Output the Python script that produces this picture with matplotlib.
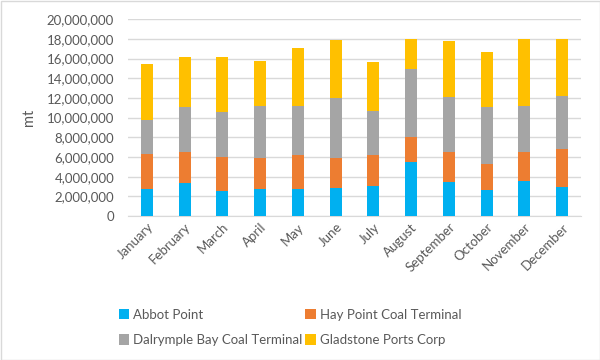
import matplotlib.pyplot as plt
from matplotlib.patches import Rectangle
from matplotlib.ticker import FuncFormatter
import numpy as np

plt.rcParams['font.family'] = ['Lato', 'DejaVu Sans']

months = ['January', 'February', 'March', 'April', 'May', 'June', 'July',
          'August', 'September', 'October', 'November', 'December']
abbot_point = [2750000, 3320000, 2580000, 2780000, 2750000, 2880000, 3100000,
               5460000, 3490000, 2640000, 3530000, 2950000]
hay_point = [3550000, 3220000, 3420000, 3120000, 3420000, 3020000, 3070000,
             2540000, 2980000, 2680000, 2940000, 3830000]
dalrymple_bay = [3500000, 4540000, 4580000, 5320000, 4980000, 6130000, 4510000,
                 6950000, 5600000, 5760000, 4750000, 5460000]
gladstone = [5700000, 5090000, 5590000, 4510000, 5930000, 5870000, 4980000,
             3050000, 5690000, 5630000, 6780000, 5760000]

series = [('Abbot Point', abbot_point, '#00b0f0'),
          ('Hay Point Coal Terminal', hay_point, '#ed7d31'),
          ('Dalrymple Bay Coal Terminal', dalrymple_bay, '#a5a5a5'),
          ('Gladstone Ports Corp', gladstone, '#ffc000')]

fig = plt.figure(figsize=(6, 3.6), dpi=100)
ax = fig.add_axes([128/600, 1 - 216/360, (581-128)/600, (216-19.3)/360])

x = np.arange(len(months))
bottom = np.zeros(len(months))
bars = []
for name, vals, col in series:
    b = ax.bar(x, vals, 0.32, bottom=bottom, color=col, label=name, zorder=3)
    bars.append(b)
    bottom += np.array(vals)

ax.set_xlim(-0.5, len(months) - 0.5)
ax.set_ylim(0, 20000000)
ax.set_yticks(np.arange(0, 20000001, 2000000))
ax.yaxis.set_major_formatter(FuncFormatter(lambda v, p: '{:,.0f}'.format(v)))
ax.grid(axis='y', color='#d9d9d9', linewidth=1, zorder=0)
for s in ['top', 'right', 'left']:
    ax.spines[s].set_visible(False)
ax.spines['bottom'].set_color('#d9d9d9')
ax.tick_params(axis='both', length=0, colors='#595959', labelsize=9.5)
ax.tick_params(axis='y', pad=10)
ax.set_xticks(x)
ax.set_xticklabels(months, rotation=45, ha='right', rotation_mode='anchor')
ax.set_ylabel('mt', color='#595959', fontsize=10.5, labelpad=8)

# legend filled row by row like Excel
order = [0, 2, 1, 3]
leg = fig.legend([bars[i] for i in order], [series[i][0] for i in order],
                 loc='upper left', bbox_to_anchor=(107/600, 1 - 297/360), ncol=2,
                 frameon=False, fontsize=9.5, handlelength=0.8, handleheight=0.8,
                 handletextpad=0.3, columnspacing=0.2, labelspacing=1.0)
for t in leg.get_texts():
    t.set_color('#595959')

fig.patches.append(Rectangle((0.5/600, 0.5/360), 599/600, 359/360, transform=fig.transFigure,
                             fill=False, edgecolor='#d9d9d9', linewidth=1))

fig.savefig('out.png', dpi=100)
